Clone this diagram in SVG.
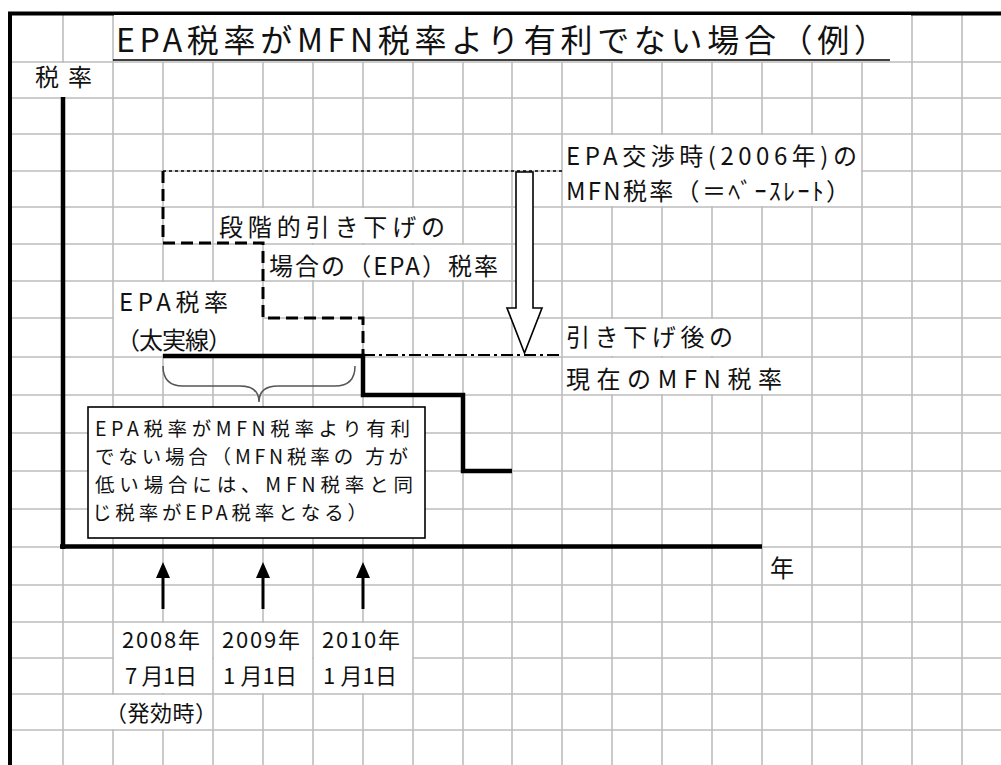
<svg xmlns="http://www.w3.org/2000/svg" width="1001" height="765" viewBox="0 0 1001 765">
<style>
.g{stroke:#bdbdbd;stroke-width:1.6;fill:none}
.mask{fill:#fff;stroke:none}
text{font-family:"Noto Sans CJK JP","Noto Sans CJK SC",sans-serif;fill:#111}
.t24{font-size:24px}
.t19{font-size:19.5px}
.t22{font-size:22px}
.ax{stroke:#000;stroke-width:4.5;fill:none}
.dash{stroke:#000;stroke-width:3;fill:none;stroke-dasharray:12 6}
.dot{stroke:#000;stroke-width:1.5;fill:none;stroke-dasharray:3 3}
.dd{stroke:#000;stroke-width:2;fill:none;stroke-dasharray:12 4 3 4}
.thick{stroke:#000;stroke-width:4.5;fill:none;stroke-linejoin:miter}
.up{stroke:#000;stroke-width:3;fill:none}
.head{fill:#000;stroke:none}
</style>
<rect x="0" y="0" width="1001" height="765" fill="#fff"/>
<g id="grid">
<path class="g" d="M63,14V765M113,14V765M912,14V765M962,14V765M163,62V765M213,62V765M263,62V765M313,62V765M363,62V765M413,62V765M463,62V765M512,62V765M562,62V765M612,62V765M662,62V765M712,62V765M762,62V765M812,62V765M862,62V765"/>
<path class="g" d="M10,62H1001M10,98H1001M10,134H1001M10,171H1001M10,207H1001M10,244H1001M10,281H1001M10,318H1001M10,357H1001M10,395H1001M10,433H1001M10,471H1001M10,509H1001M10,547H1001M10,585H1001M10,622H1001M10,658H1001M10,694H1001M10,730H1001"/>
</g>
<g id="frame">
<path d="M10,765V13.5H1001" stroke="#000" stroke-width="4" fill="none"/>
</g>
<g id="masks">
<rect class="mask" x="13" y="63" width="99" height="34"/>
<rect class="mask" x="114" y="15" width="797" height="46"/>
<rect class="mask" x="563" y="135" width="298" height="71"/>
<rect class="mask" x="214" y="208" width="248" height="35"/>
<rect class="mask" x="264" y="245" width="247" height="35"/>
<rect class="mask" x="114" y="282" width="148" height="72"/>
<rect class="mask" x="563" y="319" width="198" height="37"/>
<rect class="mask" x="563" y="358" width="248" height="36"/>
<rect class="mask" x="114" y="623" width="98" height="70"/>
<rect class="mask" x="214" y="623" width="98" height="70"/>
<rect class="mask" x="314" y="623" width="98" height="70"/>
<rect class="mask" x="64" y="695" width="148" height="34"/>
</g>
<g id="title">
<text x="116" y="52" font-size="32" textLength="770" lengthAdjust="spacing">EPA税率がMFN税率より有利でない場合（例）</text>
<line x1="113" y1="60" x2="890" y2="60" stroke="#000" stroke-width="1.6"/>
</g>
<g id="connectors">
<path class="ax" d="M63,97V549M60,546.5H762"/>
<path class="dot" d="M163,171H562"/>
<path class="dash" d="M163,171V243H263V318H363V356"/>
<path class="dd" d="M363,355H562"/>
<path class="thick" d="M163,356H363V395H463V471H512"/>
<path d="M163,366Q163,386 183,386L240,386Q259,386 259,402Q259,386 278,386L335,386Q355,386 355,366" stroke="#555" stroke-width="1.5" fill="none"/>
<path d="M516,172H533V308H542L524.5,353L507,308H516Z" fill="#fff" stroke="#000" stroke-width="1.6" stroke-linejoin="miter"/>
<path class="up" d="M163,609V575M263,609V575M363,609V575"/>
<path class="head" d="M156,578L163,562L170,578Z M256,578L263,562L270,578Z M356,578L363,562L370,578Z"/>
</g>
<g id="axis-labels">
<text class="t24" x="35" y="86" textLength="57" lengthAdjust="spacing">税率</text>
<text class="t24" x="770" y="577">年</text>
</g>
<g id="node-base-rate">
<text class="t24" x="566" y="165" textLength="291" lengthAdjust="spacing">EPA交渉時(2006年)の</text>
<text class="t24" x="566" y="200" textLength="284" lengthAdjust="spacing">MFN税率（＝ﾍﾞｰｽﾚｰﾄ）</text>
</g>
<g id="node-staged">
<text class="t24" x="219" y="236" textLength="226" lengthAdjust="spacing">段階的引き下げの</text>
<text class="t24" x="269" y="275" textLength="229" lengthAdjust="spacing">場合の（EPA）税率</text>
</g>
<g id="node-epa">
<text class="t24" x="119" y="311" textLength="109" lengthAdjust="spacing">EPA税率</text>
<text class="t24" x="116" y="349" textLength="116" lengthAdjust="spacing">（太実線）</text>
</g>
<g id="node-current-mfn">
<text class="t24" x="566" y="346" textLength="167" lengthAdjust="spacing">引き下げ後の</text>
<text class="t24" x="566" y="388" textLength="216" lengthAdjust="spacing">現在のMFN税率</text>
</g>
<g id="node-note">
<rect x="88" y="407" width="337" height="131" fill="#fff" stroke="#000" stroke-width="1.6"/>
<text class="t19" x="95" y="436" textLength="315" lengthAdjust="spacing">EPA税率がMFN税率より有利</text>
<text class="t19" x="95" y="464" textLength="313" lengthAdjust="spacing">でない場合（MFN税率の 方が</text>
<text class="t19" x="95" y="492" textLength="318" lengthAdjust="spacing">低い場合には、MFN税率と同</text>
<text class="t19" x="92" y="520" textLength="275" lengthAdjust="spacing">じ税率がEPA税率となる）</text>
</g>
<g id="node-date-2008">
<text class="t22" x="122" y="648" textLength="78" lengthAdjust="spacing">2008年</text>
<text class="t22" x="125" y="684" textLength="72" lengthAdjust="spacing">7 月1日</text>
<text class="t22" x="105" y="721" textLength="112" lengthAdjust="spacing">（発効時）</text>
</g>
<g id="node-date-2009">
<text class="t22" x="222" y="648" textLength="78" lengthAdjust="spacing">2009年</text>
<text class="t22" x="223" y="684" textLength="74" lengthAdjust="spacing">1 月1日</text>
</g>
<g id="node-date-2010">
<text class="t22" x="322" y="648" textLength="78" lengthAdjust="spacing">2010年</text>
<text class="t22" x="323" y="684" textLength="74" lengthAdjust="spacing">1 月1日</text>
</g>
</svg>
